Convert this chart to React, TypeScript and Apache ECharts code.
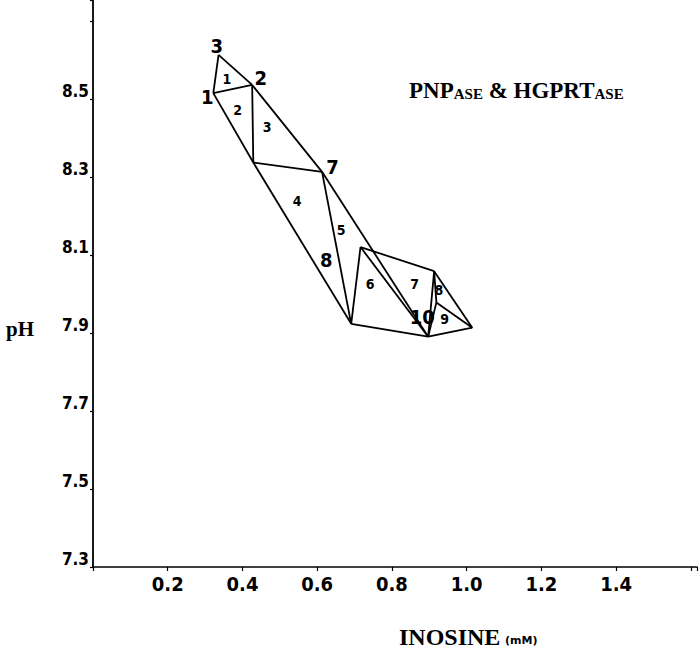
import React, { useEffect, useRef } from "react";
import * as echarts from "echarts";

// pH axis is drawn as offset from this base so ticks start at 7.3
const PH_BASE = 7.3;

const xTickValues = [0.2, 0.4, 0.6, 0.8, 1.0, 1.2, 1.4];
const yTickValues = [7.3, 7.5, 7.7, 7.9, 8.1, 8.3, 8.5];

// vertices of the triangulated region (inosine mM, pH)
const vertexIds = ["P1", "P3", "P2", "A", "P7", "B", "C", "D", "E", "F", "G"];
const vertexInosine = [0.322, 0.336, 0.426, 0.429, 0.613, 0.691, 0.716, 0.913, 0.897, 1.015, 0.919];
const vertexPH = [8.516, 8.614, 8.537, 8.338, 8.314, 7.924, 8.121, 8.059, 7.891, 7.914, 7.979];

// edges between vertices
const edgeFrom = ["P3", "P3", "P1", "P1", "P2", "A", "P2", "A", "P7", "P7", "B", "C", "C", "B", "D", "D", "E", "G", "G", "D"];
const edgeTo = ["P1", "P2", "P2", "A", "A", "P7", "P7", "B", "B", "E", "C", "E", "D", "E", "E", "F", "F", "F", "E", "G"];

// experimental point labels
const pointLabels = ["1", "2", "3", "7", "8", "10"];
const pointLabelInosine = [0.306, 0.449, 0.331, 0.641, 0.624, 0.881];
const pointLabelPH = [8.506, 8.556, 8.637, 8.326, 8.087, 7.941];

// triangle labels
const triangleLabels = ["1", "2", "3", "4", "5", "6", "7", "8", "9"];
const triangleLabelInosine = [0.358, 0.387, 0.466, 0.546, 0.664, 0.742, 0.861, 0.926, 0.941];
const triangleLabelPH = [8.551, 8.474, 8.429, 8.239, 8.164, 8.027, 8.027, 8.01, 7.937];

const NUM_FONT = "'DejaVu Sans Condensed', 'DejaVu Sans', sans-serif";
const SERIF = "'Liberation Serif', 'DejaVu Serif', serif";

function vertex(id: string): [number, number] {
  const i = vertexIds.indexOf(id);
  return [vertexInosine[i], vertexPH[i] - PH_BASE];
}

export default function App() {
  const ref = useRef<HTMLDivElement>(null);

  useEffect(() => {
    if (!ref.current) return;
    const chart = echarts.init(ref.current, null, { renderer: "svg" });

    const edgeData = edgeFrom.map((f, i) => ({ coords: [vertex(f), vertex(edgeTo[i])] }));

    const near = (v: number, arr: number[]) => arr.some((t) => Math.abs(t - v) < 1e-6);

    const labelSeries = (names: string[], xs: number[], ys: number[], size: number) => ({
      type: "scatter",
      silent: true,
      symbolSize: 1,
      itemStyle: { color: "rgba(255,255,255,0)", opacity: 1 },
      label: {
        show: true,
        position: "inside",
        formatter: "{b}",
        fontSize: size,
        fontWeight: "bold",
        fontFamily: NUM_FONT,
        color: "#000",
        opacity: 1,
        textBorderWidth: 0,
      },
      data: names.map((t, i) => ({ name: t, value: [xs[i], ys[i] - PH_BASE] })),
    });

    chart.setOption({
      animation: false,
      backgroundColor: "#fff",
      grid: { left: 93, right: 0, top: 0, bottom: 84, containLabel: false },
      xAxis: {
        type: "value",
        min: 0,
        max: 1.6165,
        interval: 0.2,
        splitLine: { show: false },
        axisLine: { show: true, lineStyle: { color: "#000", width: 1.6 } },
        axisTick: { show: true, length: 4, lineStyle: { color: "#000", width: 1.2 } },
        axisLabel: {
          margin: 7,
          fontSize: 20,
          fontWeight: "bold",
          fontFamily: NUM_FONT,
          color: "#000",
          formatter: (v: number) => (near(v, xTickValues) ? v.toFixed(1) : ""),
        },
      },
      yAxis: {
        type: "value",
        min: 0,
        max: 1.455,
        interval: 0.2,
        splitLine: { show: false },
        axisLine: { show: true, lineStyle: { color: "#000", width: 1.8 } },
        axisTick: { show: true, length: 3, lineStyle: { color: "#000", width: 1.2 } },
        axisLabel: {
          margin: 4,
          fontSize: 17,
          fontWeight: "bold",
          fontFamily: NUM_FONT,
          color: "#000",
          verticalAlign: "bottom",
          formatter: (v: number) => {
            const ph = v + PH_BASE;
            return near(ph, yTickValues) ? ph.toFixed(1) : "";
          },
        },
      },
      series: [
        {
          type: "lines",
          coordinateSystem: "cartesian2d",
          polyline: false,
          silent: true,
          lineStyle: { color: "#000", width: 1.8, opacity: 1, curveness: 0 },
          data: edgeData,
        },
        labelSeries(pointLabels, pointLabelInosine, pointLabelPH, 20),
        labelSeries(triangleLabels, triangleLabelInosine, triangleLabelPH, 14),
      ],
      graphic: [
        {
          type: "text",
          left: 6,
          top: 318,
          style: { text: "pH", font: `bold 21px ${SERIF}`, fill: "#000" },
        },
        {
          type: "text",
          x: 399,
          y: 637,
          style: {
            text: "INOSINE",
            font: `bold 24px ${SERIF}`,
            fill: "#000",
            verticalAlign: "middle",
          },
        },
        {
          type: "text",
          x: 505,
          y: 640,
          style: {
            text: "(mM)",
            font: `bold 11px 'DejaVu Sans', sans-serif`,
            fill: "#000",
            verticalAlign: "middle",
          },
        },
        {
          type: "text",
          x: 409,
          y: 90,
          style: {
            text: "{b|PNP}{s|ASE}{b| & HGPRT}{s|ASE}",
            verticalAlign: "middle",
            fill: "#000",
            rich: {
              b: { font: `bold 23px ${SERIF}`, fill: "#000", verticalAlign: "bottom", lineHeight: 23 },
              s: { font: `bold 15px ${SERIF}`, fill: "#000", verticalAlign: "bottom", lineHeight: 21 },
            },
          },
        },
      ],
    });

    return () => chart.dispose();
  }, []);

  return (
    <div
      ref={ref}
      style={{ position: "fixed", left: 0, top: 0, width: 700, height: 651, background: "#fff" }}
    />
  );
}
